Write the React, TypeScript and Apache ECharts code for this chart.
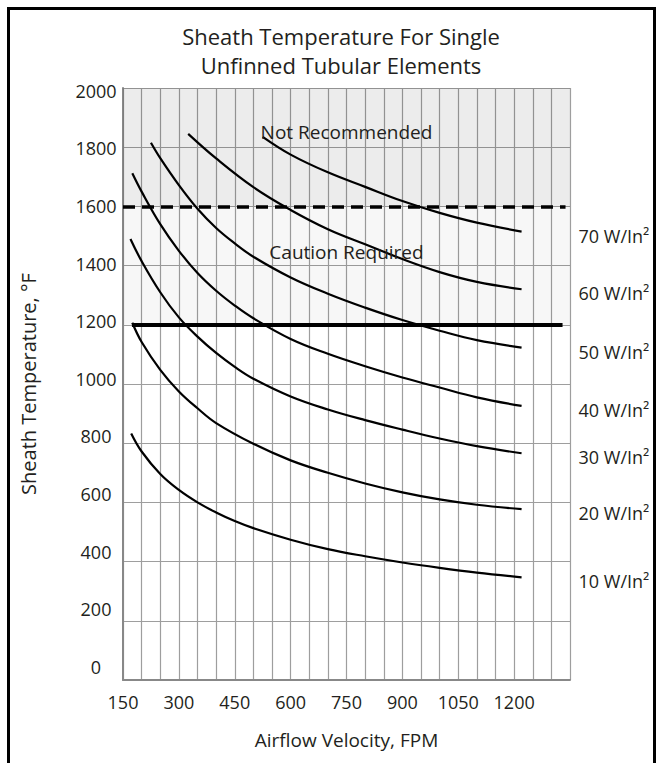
import React, { useEffect, useRef } from 'react';
import * as echarts from 'echarts';

const FONT = "'Open Sans', 'Noto Sans', sans-serif";
const TEXT = '#231f20';

const titleLines = ['Sheath Temperature For Single', 'Unfinned Tubular Elements'];
const xAxisName = 'Airflow Velocity, FPM';
const yAxisName = 'Sheath Temperature, °F';
const xTickLabels = [150, 300, 450, 600, 750, 900, 1050, 1200];
const yTickLabels = [0, 200, 400, 600, 800, 1000, 1200, 1400, 1600, 1800, 2000];

const seriesNames = ['10 W/In²', '20 W/In²', '30 W/In²', '40 W/In²', '50 W/In²', '60 W/In²', '70 W/In²'];

const fpm10 = [172, 200, 250, 300, 350, 400, 450, 500, 600, 700, 800, 900, 1000, 1100, 1220];
const temp10 = [833, 772, 696, 642, 600, 566, 537, 513, 474, 442, 418, 397, 379, 363, 347];

const fpm20 = [175, 200, 250, 300, 350, 400, 500, 600, 700, 800, 900, 1000, 1100, 1220];
const temp20 = [1207, 1142, 1048, 975, 918, 868, 798, 742, 700, 664, 634, 610, 592, 577];

const fpm30 = [170, 200, 250, 300, 350, 400, 450, 500, 600, 700, 800, 900, 1000, 1100, 1220];
const temp30 = [1490, 1415, 1310, 1225, 1160, 1105, 1058, 1018, 958, 914, 878, 846, 816, 790, 766];

const fpm40 = [175, 200, 250, 300, 350, 400, 450, 500, 600, 700, 800, 900, 1000, 1100, 1220];
const temp40 = [1712, 1650, 1540, 1450, 1375, 1315, 1265, 1222, 1152, 1102, 1060, 1022, 988, 955, 926];

const fpm50 = [225, 250, 300, 350, 400, 450, 500, 600, 700, 800, 900, 1000, 1100, 1220];
const temp50 = [1815, 1763, 1672, 1592, 1527, 1475, 1430, 1360, 1305, 1258, 1216, 1180, 1148, 1123];

const fpm60 = [325, 400, 500, 600, 700, 800, 900, 1000, 1100, 1220];
const temp60 = [1845, 1762, 1665, 1588, 1523, 1472, 1422, 1378, 1345, 1320];

const fpm70 = [525, 600, 700, 800, 900, 1000, 1100, 1220];
const temp70 = [1835, 1775, 1715, 1666, 1618, 1578, 1545, 1515];

const curveFpm = [fpm10, fpm20, fpm30, fpm40, fpm50, fpm60, fpm70];
const curveTemp = [temp10, temp20, temp30, temp40, temp50, temp60, temp70];

const zoneLabels = ['Not Recommended', 'Caution Required'];
const zoneLabelFpm = [750, 750];
const zoneLabelTemp = [1852, 1447];

const notRecommendedLimit = 1600;
const notRecommendedLineFpm = [150, 1338];
const cautionLimit = 1200;
const cautionLineFpm = [174, 1330];

const titleStyle = { fontSize: 22, fontWeight: 'normal', color: TEXT, lineHeight: 29, fontFamily: FONT };

const option: any = {
  animation: false,
  textStyle: { fontFamily: FONT },
  title: [
    { text: titleLines[0], left: 326, top: 6, textAlign: 'center', textStyle: titleStyle },
    { text: titleLines[1], left: 326, top: 35, textAlign: 'center', textStyle: titleStyle },
  ],
  grid: { left: 110, top: 78, width: 450, height: 592, containLabel: false },
  xAxis: {
    type: 'value',
    min: 150,
    max: 1350,
    interval: 50,
    name: xAxisName,
    nameLocation: 'middle',
    nameGap: 50,
    nameTextStyle: { fontSize: 19, color: TEXT, fontFamily: FONT },
    axisLine: { show: true, lineStyle: { color: '#888', width: 2 } },
    axisTick: { show: false },
    axisLabel: {
      interval: 0,
      margin: 13,
      fontSize: 18,
      color: TEXT,
      fontFamily: FONT,
      formatter: (v: number) => (xTickLabels.includes(v) ? String(v) : ''),
    },
    splitLine: { show: true, lineStyle: { color: '#9e9e9e', width: 1.2 } },
  },
  yAxis: [
    {
      type: 'value',
      min: 0,
      max: 2000,
      interval: 200,
      name: yAxisName,
      nameLocation: 'middle',
      nameGap: 85,
      nameTextStyle: { fontSize: 20, color: TEXT, fontFamily: FONT },
      axisLine: { show: true, lineStyle: { color: '#888', width: 2 } },
      axisTick: { show: false },
      axisLabel: { show: false },
      splitLine: { show: true, lineStyle: { color: '#9e9e9e', width: 1.2 } },
    },
    {
      type: 'value',
      min: -46,
      max: 2010,
      position: 'left',
      splitNumber: 10,
      axisLine: { show: false },
      axisTick: { show: false },
      splitLine: { show: false },
      axisLabel: {
        margin: 27,
        align: 'center',
        fontSize: 18,
        color: TEXT,
        fontFamily: FONT,
        formatter: (v: number) => (yTickLabels.includes(v) ? String(v) : ''),
      },
    },
  ],
  series: [
    ...seriesNames.map((name, i) => ({
      name,
      type: 'line',
      xAxisIndex: 0,
      yAxisIndex: 0,
      data: curveFpm[i].map((x, j) => [x, curveTemp[i][j]]),
      symbol: 'none',
      smooth: 0.4,
      lineStyle: { color: '#000', width: 2.2 },
      z: 5,
      endLabel: {
        show: true,
        formatter: (p: any) => p.seriesName,
        offset: [49, 4],
        fontSize: 18,
        color: TEXT,
        fontFamily: FONT,
      },
      ...(i === 0
        ? {
            markArea: {
              silent: true,
              data: [
                [{ yAxis: notRecommendedLimit, itemStyle: { color: 'rgba(0,0,0,0.075)' } }, { yAxis: 2000 }],
                [{ yAxis: cautionLimit, itemStyle: { color: 'rgba(0,0,0,0.032)' } }, { yAxis: notRecommendedLimit }],
              ],
            },
            markLine: {
              silent: true,
              symbol: ['none', 'none'],
              label: { show: false },
              data: [
                [
                  { coord: [notRecommendedLineFpm[0], notRecommendedLimit], lineStyle: { color: '#000', width: 3.5, type: [12, 7] } },
                  { coord: [notRecommendedLineFpm[1], notRecommendedLimit] },
                ],
                [
                  { coord: [cautionLineFpm[0], cautionLimit], lineStyle: { color: '#000', width: 4, type: 'solid' } },
                  { coord: [cautionLineFpm[1], cautionLimit] },
                ],
              ],
            },
          }
        : {}),
    })),
    {
      name: 'zones',
      type: 'scatter',
      xAxisIndex: 0,
      yAxisIndex: 0,
      symbolSize: 0,
      itemStyle: { color: '#000' },
      z: 6,
      data: zoneLabels.map((t, i) => ({ name: t, value: [zoneLabelFpm[i], zoneLabelTemp[i]] })),
      label: {
        show: true,
        position: 'inside',
        formatter: '{b}',
        fontSize: 19,
        color: TEXT,
        opacity: 1,
        textBorderWidth: 0,
        fontFamily: FONT,
      },
    },
  ],
};

export default function App() {
  const ref = useRef<HTMLDivElement>(null);
  useEffect(() => {
    const chart = echarts.init(ref.current!, null, { renderer: 'svg' });
    chart.setOption(option);
    return () => chart.dispose();
  }, []);
  return (
    <div
      style={{
        position: 'absolute',
        left: 7,
        top: 7,
        width: 649,
        height: 760,
        boxSizing: 'border-box',
        borderTop: '3px solid #000',
        borderLeft: '3px solid #000',
        borderRight: '3px solid #000',
        background: '#fff',
      }}
    >
      <div ref={ref} style={{ width: 643, height: 745 }} />
    </div>
  );
}
